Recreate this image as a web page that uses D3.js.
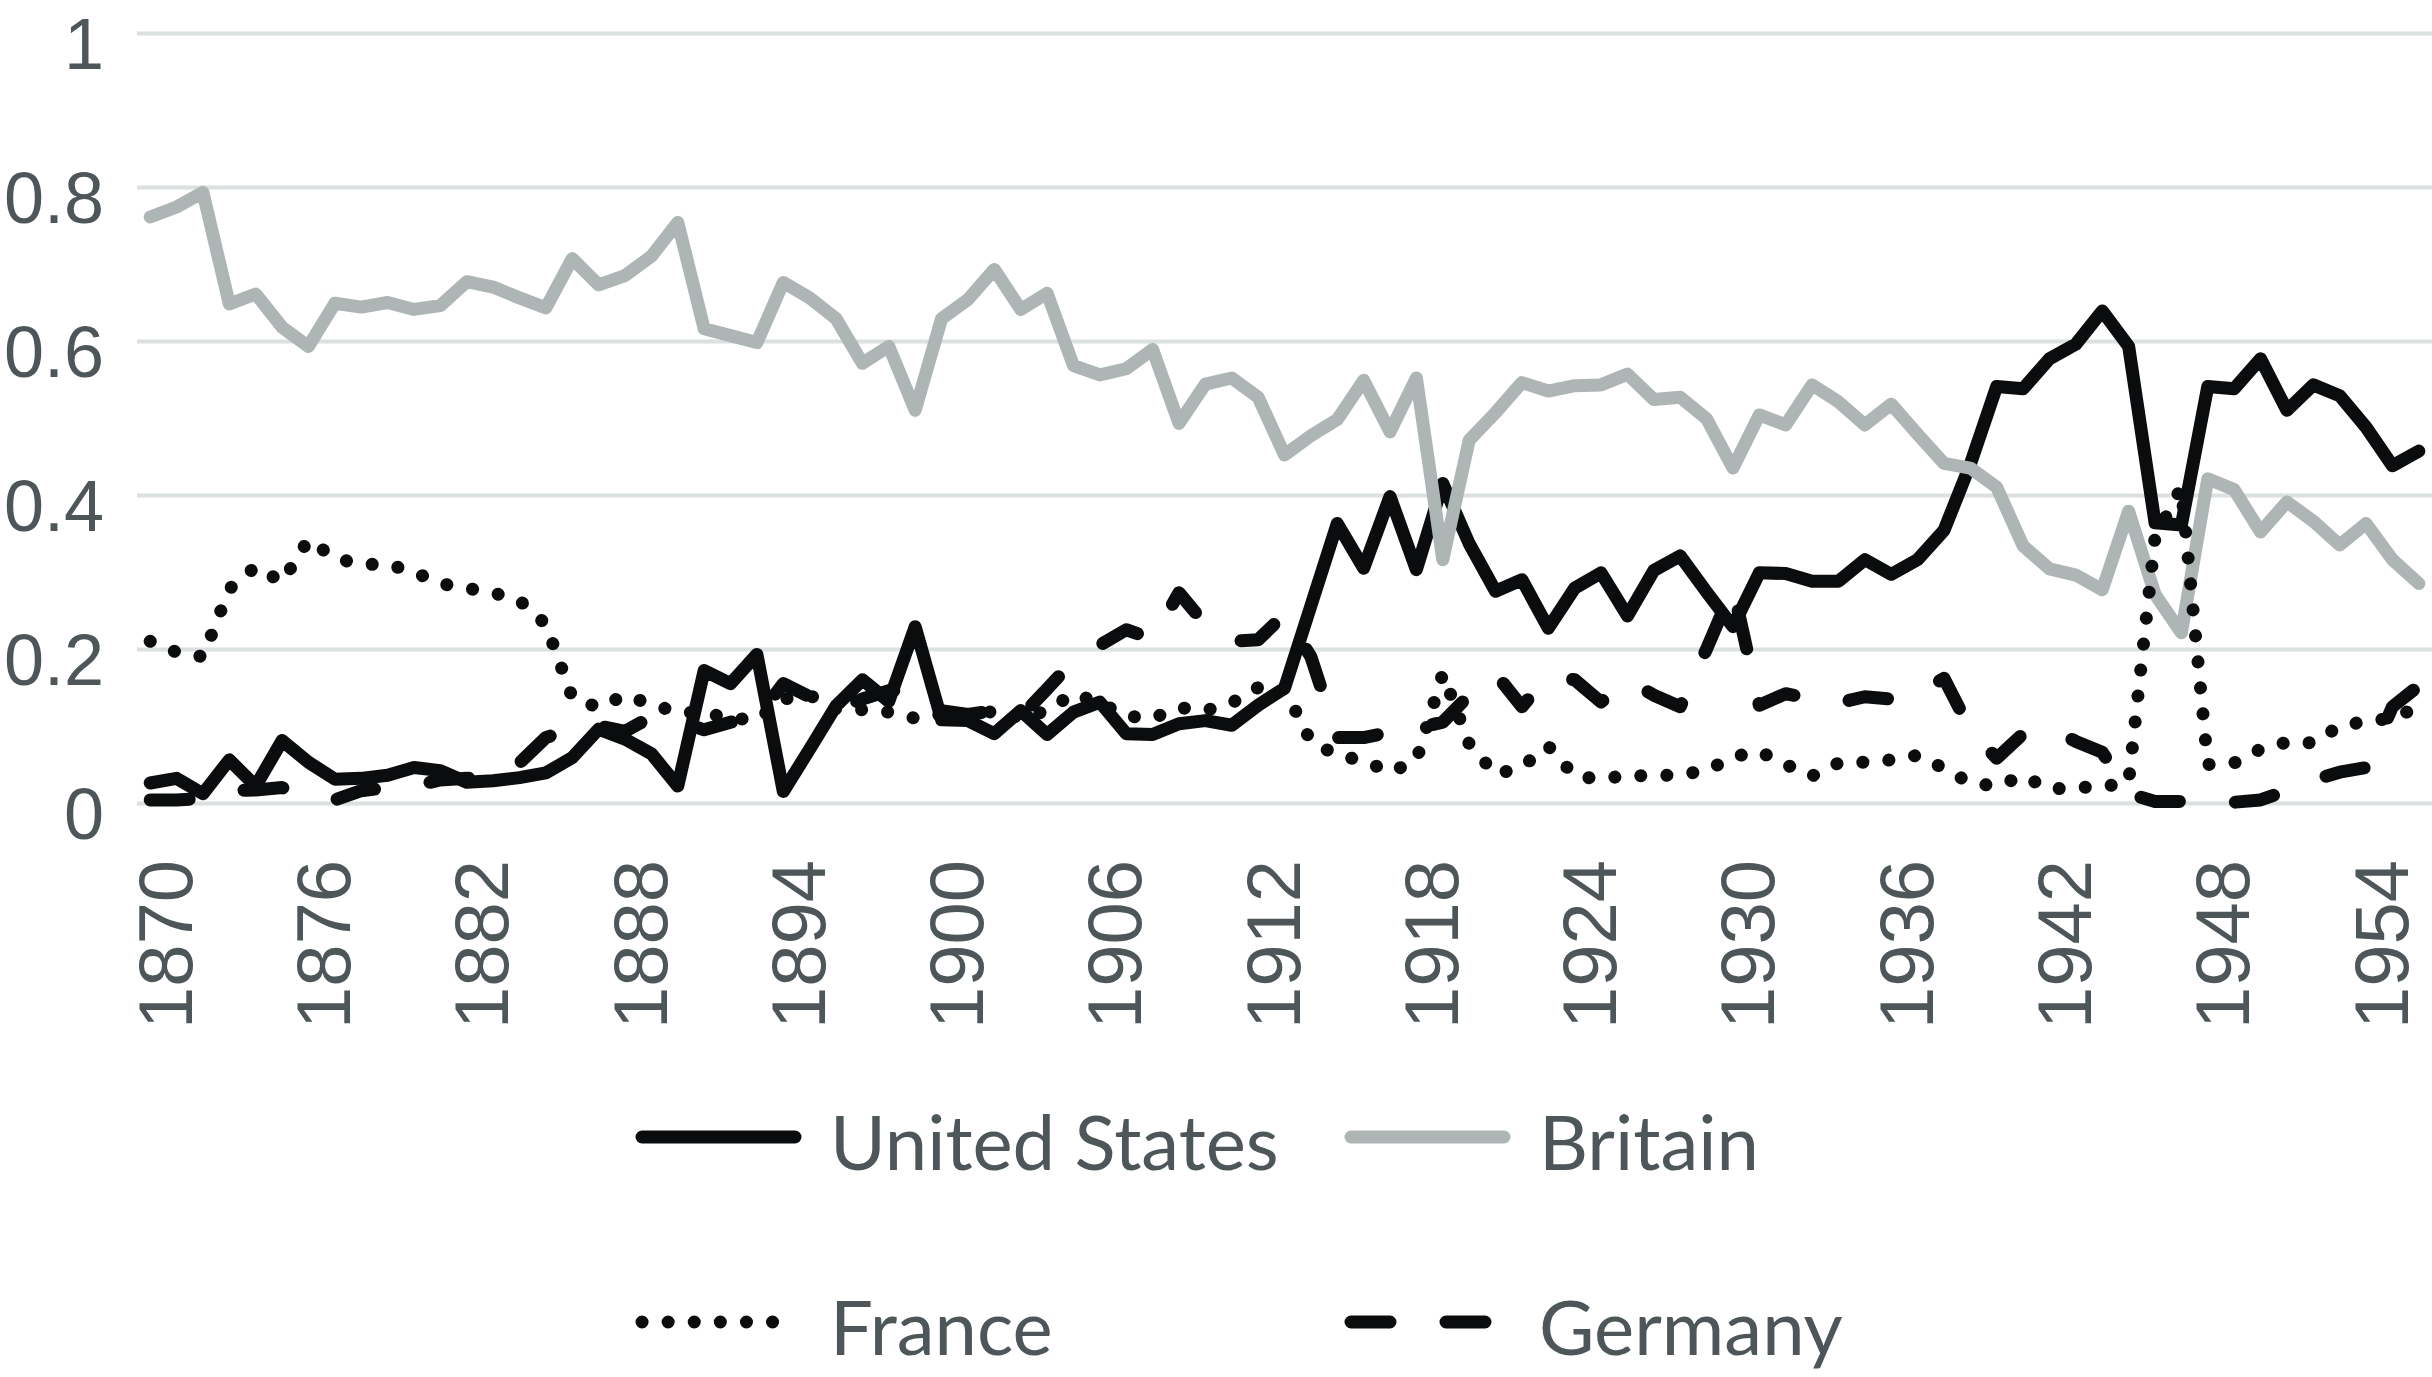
<!doctype html>
<html lang="en">
<head>
<meta charset="UTF-8">
<title>Shares 1870-1956</title>
<script src="https://cdn.jsdelivr.net/npm/d3@7"></script>
<style>
  html, body { margin: 0; padding: 0; background: #fff; }
  svg { display: block; font-family: Lato, "Open Sans", sans-serif; }
</style>
</head>
<body>
<div id="container"></div>
<script>
var width = 2432, height = 1377;

// categories
var years = d3.range(1870, 1957);
var tick_years = [1870, 1876, 1882, 1888, 1894, 1900, 1906, 1912, 1918, 1924, 1930, 1936, 1942, 1948, 1954];
var y_ticks = [0, 0.2, 0.4, 0.6, 0.8, 1];

// series, 1870 .. 1956
var us = [0.026, 0.032, 0.012, 0.056, 0.022, 0.081, 0.053, 0.031, 0.032, 0.036,
	0.046, 0.042, 0.027, 0.029, 0.033, 0.039, 0.059, 0.096, 0.083, 0.064,
	0.022, 0.172, 0.155, 0.193, 0.015, 0.07, 0.126, 0.16, 0.132, 0.229,
	0.108, 0.107, 0.09, 0.12, 0.089, 0.118, 0.131, 0.09, 0.089, 0.103,
	0.107, 0.101, 0.127, 0.149, 0.256, 0.363, 0.305, 0.398, 0.303, 0.415,
	0.337, 0.275, 0.29, 0.227, 0.279, 0.299, 0.243, 0.302, 0.321, 0.274,
	0.229, 0.299, 0.298, 0.288, 0.288, 0.316, 0.297, 0.316, 0.354, 0.44,
	0.541, 0.538, 0.577, 0.596, 0.639, 0.593, 0.364, 0.361, 0.541, 0.538,
	0.577, 0.51, 0.543, 0.529, 0.488, 0.438, 0.457];
var britain = [0.761, 0.774, 0.793, 0.648, 0.661, 0.618, 0.593, 0.649, 0.644, 0.65,
	0.641, 0.646, 0.677, 0.67, 0.656, 0.643, 0.707, 0.673, 0.685, 0.71,
	0.754, 0.616, 0.607, 0.598, 0.676, 0.656, 0.629, 0.571, 0.593, 0.51,
	0.629, 0.654, 0.693, 0.641, 0.662, 0.568, 0.556, 0.564, 0.589, 0.493,
	0.544, 0.552, 0.527, 0.452, 0.477, 0.498, 0.549, 0.482, 0.552, 0.316,
	0.471, 0.507, 0.546, 0.535, 0.542, 0.543, 0.557, 0.524, 0.527, 0.499,
	0.435, 0.504, 0.491, 0.543, 0.521, 0.491, 0.518, 0.479, 0.441, 0.435,
	0.41, 0.334, 0.304, 0.296, 0.277, 0.379, 0.271, 0.221, 0.421, 0.407,
	0.352, 0.391, 0.366, 0.335, 0.363, 0.316, 0.285];
var france = [0.21, 0.196, 0.19, 0.278, 0.307, 0.287, 0.342, 0.318, 0.31, 0.31,
	0.3, 0.285, 0.279, 0.273, 0.263, 0.232, 0.137, 0.124, 0.14, 0.128,
	0.118, 0.117, 0.11, 0.108, 0.135, 0.14, 0.122, 0.121, 0.118, 0.11,
	0.115, 0.11, 0.12, 0.11, 0.12, 0.142, 0.13, 0.113, 0.11, 0.124,
	0.12, 0.13, 0.15, 0.148, 0.08, 0.062, 0.055, 0.04, 0.055, 0.168,
	0.077, 0.037, 0.047, 0.074, 0.035, 0.031, 0.036, 0.035, 0.037, 0.042,
	0.06, 0.067, 0.05, 0.035, 0.052, 0.053, 0.056, 0.062, 0.045, 0.026,
	0.022, 0.035, 0.018, 0.02, 0.021, 0.027, 0.345, 0.41, 0.05, 0.052,
	0.07, 0.079, 0.078, 0.1, 0.106, 0.11, 0.125];
var germany = [0.004, 0.004, 0.006, 0.016, 0.017, 0.02, 0.008, 0.004, 0.016, 0.02,
	0.022, 0.03, 0.032, 0.036, 0.052, 0.085, 0.097, 0.1, 0.093, 0.112,
	0.107, 0.095, 0.105, 0.11, 0.155, 0.138, 0.12, 0.135, 0.146, 0.146,
	0.12, 0.115, 0.12, 0.112, 0.148, 0.185, 0.205, 0.225, 0.213, 0.273,
	0.232, 0.21, 0.212, 0.245, 0.19, 0.085, 0.085, 0.092, 0.097, 0.105,
	0.14, 0.168, 0.125, 0.165, 0.16, 0.131, 0.16, 0.14, 0.125, 0.2,
	0.28, 0.127, 0.142, 0.135, 0.13, 0.138, 0.135, 0.142, 0.162, 0.095,
	0.058, 0.09, 0.097, 0.08, 0.066, 0.012, 0.002, 0.002, 0.001, 0.001,
	0.004, 0.016, 0.03, 0.04, 0.046, 0.125, 0.152];

var text_color = "#4d5658";
var font_size = 76;
var line_w = 13;

var series = [
	{name: "United States", values: us, color: "#0b0c0d", dash: null},
	{name: "Britain", values: britain, color: "#adb5b5", dash: null},
	{name: "France", values: france, color: "#0b0c0d", dash: "0.1,26"},
	{name: "Germany", values: germany, color: "#0b0c0d", dash: "39,56"}
];

var scale_x = d3.scalePoint()
		.domain(years)
		.range([137, width])
		.padding(0.5);
var scale_y = d3.scaleLinear()
		.domain([0, 1])
		.range([803, 33]);

var svg = d3.select("#container")
		.append("svg")
		.attr("width", width)
		.attr("height", height);

// y grid + labels
var y_axis = d3.axisLeft(scale_y)
		.tickValues(y_ticks)
		.tickSize(-(width - 137))
		.tickPadding(33)
		.tickFormat(function (d) { return String(d); });

var gy = svg.append("g")
		.attr("transform", "translate(137,0)")
		.call(y_axis);
gy.select(".domain").remove();
gy.selectAll(".tick line")
		.attr("stroke", "#dbe0e0")
		.attr("stroke-width", 4);
gy.selectAll(".tick text")
		.attr("dy", 35)
		.attr("fill", text_color)
		.style("font-size", "72px");

// x labels, rotated
var x_axis = d3.axisBottom(scale_x)
		.tickValues(tick_years)
		.tickSize(0)
		.tickFormat(function (d) { return String(d); });

var gx = svg.append("g")
		.attr("transform", "translate(0,860)")
		.call(x_axis);
gx.select(".domain").remove();
gx.selectAll(".tick text")
		.attr("x", 0)
		.attr("y", 0)
		.attr("dy", 41)
		.attr("transform", "rotate(-90)")
		.attr("fill", text_color)
		.style("text-anchor", "end")
		.style("font-size", font_size + "px");

var line_generator = d3.line()
		.x(function (d, i) { return scale_x(years[i]); })
		.y(function (d) { return scale_y(d); });

series.forEach(function (s) {
	svg.append("path")
			.attr("d", line_generator(s.values))
			.attr("fill", "none")
			.attr("stroke", s.color)
			.attr("stroke-width", line_w)
			.attr("stroke-linejoin", "round")
			.attr("stroke-linecap", "round")
			.attr("stroke-dasharray", s.dash);
});

// legend
var legend_pos = [
	{x: 642, y: 1137}, {x: 1351, y: 1137},
	{x: 642, y: 1322}, {x: 1351, y: 1322}
];
series.forEach(function (s, i) {
	var p = legend_pos[i];
	var g = svg.append("g").attr("transform", "translate(" + p.x + "," + p.y + ")");
	g.append("line")
			.attr("x1", 0).attr("x2", 153)
			.attr("y1", 0).attr("y2", 0)
			.attr("stroke", s.color)
			.attr("stroke-width", line_w)
			.attr("stroke-linecap", "round")
			.attr("stroke-dasharray", s.dash);
	g.append("text")
			.attr("x", 188)
			.attr("y", 33)
			.attr("fill", text_color)
			.style("font-size", font_size + "px")
			.text(s.name);
});
</script>
</body>
</html>
